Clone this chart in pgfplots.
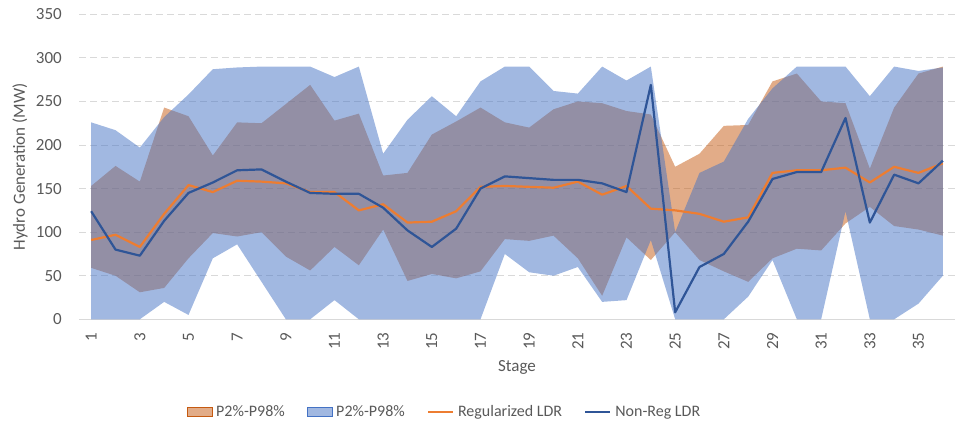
\documentclass[border=0pt]{standalone}
\usepackage{pgfplots}
\pgfplotsset{compat=1.18}
\usepgfplotslibrary{fillbetween}
\usepackage{pgfplotstable}
\usepackage{fontspec}
\setmainfont{Carlito}
\definecolor{orfill}{HTML}{C55A11}
\definecolor{blfill}{HTML}{4472C4}
\definecolor{orline}{HTML}{ED7D31}
\definecolor{blline}{HTML}{2F5597}
\definecolor{txt}{HTML}{595959}
\definecolor{gridc}{HTML}{D9D9D9}

\pgfplotstableread{
s  oL   oU   bL   bU   reg  non
1  59   153  0    226  91   124
2  50   176  0    217  97   80
3  31   158  0    197  83   73
4  36   243  20   232  121  113
5  70   233  5    258  154  145
6  99   188  70   287  146  157
7  95   226  86   289  159  171
8  100  225  43   290  158  172
9  72   247  0    290  156  158
10 56   269  0    290  146  145
11 83   228  22   278  146  144
12 62   236  0    290  125  144
13 103  165  0    190  132  128
14 44   168  0    229  111  102
15 52   212  0    256  112  83
16 47   227  0    233  124  104
17 55   243  0    273  152  150
18 92   226  75   290  153  164
19 90   220  54   290  152  162
20 96   241  50   262  151  160
21 70   250  60   259  158  160
22 27   248  20   290  143  156
23 94   239  22   274  153  146
24 68   235  91   290  127  269
25 100  175  0    100  125  8
26 68   190  0    168  121  60
27 55   222  0    181  112  75
28 43   223  26   230  117  112
29 70   273  68   265  168  161
30 81   282  0    290  171  169
31 79   250  0    290  171  169
32 110  248  124  290  174  231
33 129  173  0    256  157  111
34 107  243  0    290  175  166
35 103  282  18   285  168  156
36 96   290  50   289  179  182
}\data

\begin{document}
\begin{tikzpicture}
\begin{axis}[
  at={(79bp,105.7bp)}, anchor=south west,
  scale only axis, width=876bp, height=305bp,
  xmin=0.5, xmax=36.5, ymin=0, ymax=350,
  xtick={1,3,...,35}, ytick={0,50,...,350},
  axis x line*=bottom, axis y line*=left,
  y axis line style={draw=none},
  x axis line style={draw=gridc, line width=1bp},
  major tick length=0pt,
  tick style={draw=none},
  ymajorgrids,
  grid style={draw=gridc, line width=1bp, dash pattern=on 7bp off 4bp},
  /pgf/number format/assume math mode=true,
  ticklabel style={font=\fontsize{17bp}{20bp}\selectfont, text=txt, inner sep=0pt},
  yticklabel style={anchor=east, xshift=-17bp},
  xticklabel style={rotate=90, anchor=east, xshift=-13bp},
  xlabel={Stage},
  ylabel={Hydro Generation (MW)},
  label style={font=\fontsize{17bp}{20bp}\selectfont, text=txt},
  xlabel style={at={(axis description cs:0.5,-0.1564)}, anchor=center},
  ylabel style={at={(axis description cs:-0.0674,0.5)}, anchor=center},
  legend columns=4,
  legend style={at={(axis description cs:0.4161,-0.303)}, anchor=center,
    draw=none, fill=none, font=\fontsize{16bp}{19bp}\selectfont, text=txt,
    nodes={inner sep=0pt},
    /tikz/every even column/.append style={column sep=22bp},
    /tikz/every odd column/.append style={column sep=4bp}},
]
\addplot[name path=oL, draw=none, forget plot] table[x=s,y=oL]{\data};
\addplot[name path=oU, draw=none, forget plot] table[x=s,y=oU]{\data};
\addplot[name path=bL, draw=none, forget plot] table[x=s,y=bL]{\data};
\addplot[name path=bU, draw=none, forget plot] table[x=s,y=bU]{\data};
\addplot[fill=orfill, fill opacity=0.5, draw=none, forget plot] fill between[of=oU and oL];
\addplot[fill=blfill, fill opacity=0.5, draw=none, forget plot] fill between[of=bU and bL];
\addplot[orline, line width=2.2bp, line join=round, forget plot] table[x=s,y=reg]{\data};
\addplot[blline, line width=2.2bp, line join=round, forget plot] table[x=s,y=non]{\data};

\addlegendimage{legend image code/.code={\fill[orfill, fill opacity=0.5] (0bp,-4.5bp) rectangle (25bp,4.5bp);}}
\addlegendentry{P2\%-P98\%}
\addlegendimage{legend image code/.code={\fill[blfill, fill opacity=0.5] (0bp,-4.5bp) rectangle (25bp,4.5bp);}}
\addlegendentry{P2\%-P98\%}
\addlegendimage{legend image code/.code={\draw[orline, line width=2.2bp] (0bp,0bp) -- (25bp,0bp);}}
\addlegendentry{Regularized LDR}
\addlegendimage{legend image code/.code={\draw[blline, line width=2.2bp] (0bp,0bp) -- (25bp,0bp);}}
\addlegendentry{Non-Reg LDR}
\end{axis}
\pgfresetboundingbox
\useasboundingbox (0,0) rectangle (965bp,425bp);
\end{tikzpicture}
\end{document}
